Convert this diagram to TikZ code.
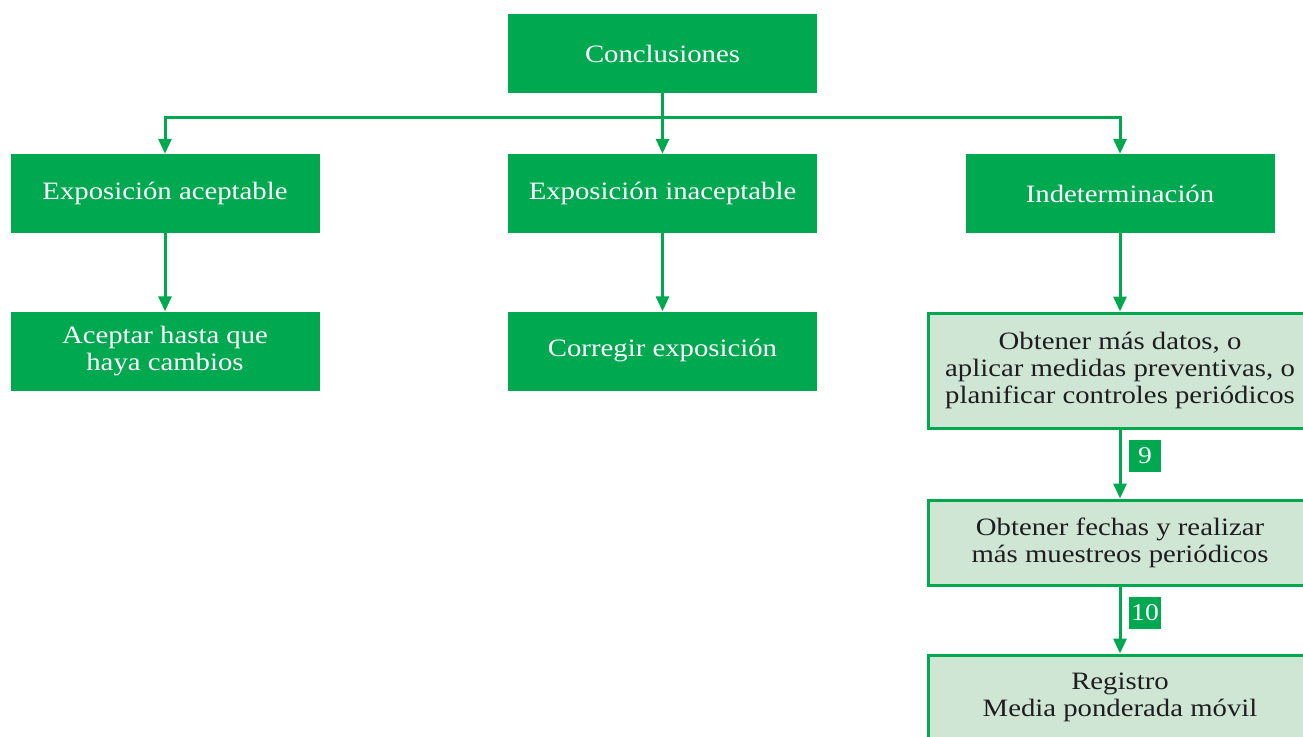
\documentclass[tikz,border=0pt]{standalone}
\usepackage{fontspec}
\setmainfont[FakeStretch=1.15]{Liberation Serif}
\usetikzlibrary{arrows.meta}
\definecolor{flowgreen}{RGB}{0,168,80}
\definecolor{palegreen}{RGB}{207,230,212}
\definecolor{inktext}{RGB}{30,30,30}
\tikzset{
  box/.style={rectangle, align=center, inner sep=0pt,
    font=\fontsize{25}{27}\selectfont},
  solidbox/.style={box, fill=flowgreen, text=white,
    minimum width=309pt, minimum height=79pt},
  palebox/.style={box, fill=palegreen, draw=flowgreen, line width=3pt,
    text=inktext, minimum width=384pt},
  tag/.style={rectangle, fill=flowgreen, text=white, inner sep=0pt,
    minimum size=32pt, font=\fontsize{24}{26}\selectfont},
  link/.style={draw=flowgreen, line width=3pt,
    -{Triangle[width=13pt,length=15pt]}},
}
\begin{document}
\begin{tikzpicture}[x=1pt,y=-1pt]
\clip (0,0) rectangle (1303,736);
\fill[white] (0,0) rectangle (1303,736);

% top level
\node[solidbox] (top) at (662.5,53.5) {Conclusiones};

% second level
\node[solidbox] (acep)  at (165,193.5)   {Exposición aceptable};
\node[solidbox] (inac)  at (662.5,193.5) {Exposición inaceptable};
\node[solidbox] (indet) at (1120,193.5)  {Indeterminación};

% third level
\node[solidbox] (hasta) at (165,351)   {Aceptar hasta que\\haya cambios};
\node[solidbox] (corr)  at (662.5,351) {Corregir exposición};
\node[palebox, minimum height=115pt] (datos) at (1120,370.5)
  {Obtener más datos, o\\aplicar medidas preventivas, o\\planificar controles periódicos};

% follow-up steps
\node[palebox, minimum height=85pt] (fechas) at (1120,542.5)
  {Obtener fechas y realizar\\más muestreos periódicos};
\node[palebox, minimum height=85pt] (reg) at (1120,697.5)
  {Registro\\Media ponderada móvil};

\node[tag] (t9)  at (1145,456) {9};
\node[tag] (t10) at (1145,613) {10};

% connectors
\coordinate (bus) at (0,117);
\draw[link] (top.south) -- (inac.north);
\draw[link] (top.south |- bus) -| (acep.north);
\draw[link] (top.south |- bus) -| (indet.north);
\draw[link] (acep.south) -- (hasta.north);
\draw[link] (inac.south) -- (corr.north);
\draw[link] (indet.south) -- (datos.north);
\draw[link] (datos.south) -- (fechas.north);
\draw[link] (fechas.south) -- (reg.north);
\end{tikzpicture}
\end{document}
